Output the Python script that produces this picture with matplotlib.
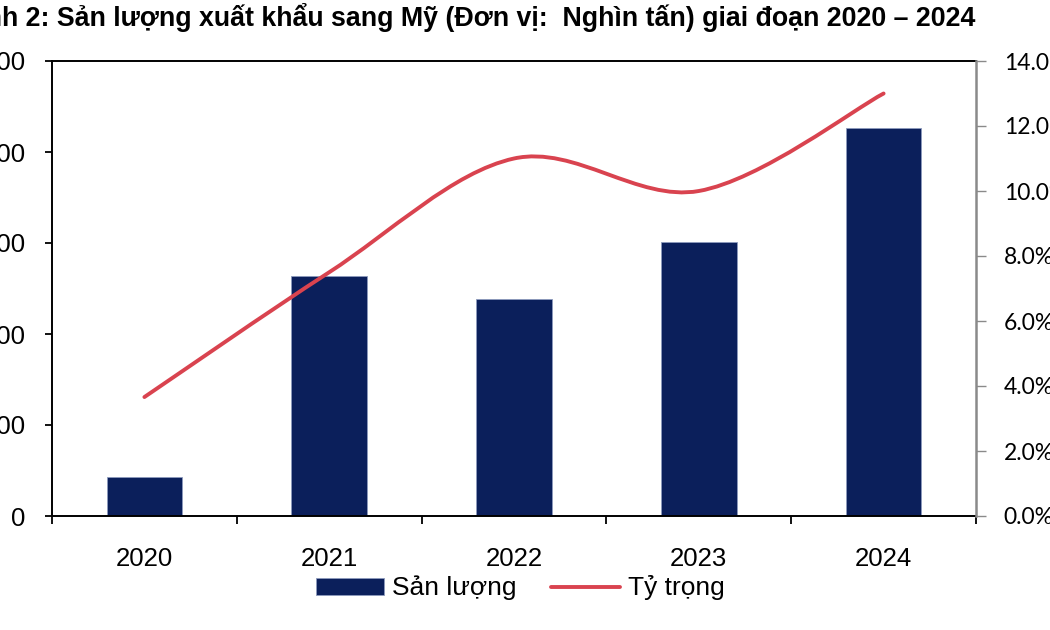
import numpy as np
import matplotlib
matplotlib.use("Agg")
import matplotlib.pyplot as plt
from matplotlib.path import Path
from matplotlib.patches import PathPatch
from matplotlib.lines import Line2D
from matplotlib.patches import Patch

# data
years = ["2020", "2021", "2022", "2023", "2024"]
san_luong = [43, 264, 238, 301, 426]          # Nghìn tấn
ty_trong = [3.66, 7.5, 11.0, 10.0, 13.0]       # %
left_ticks = [0, 100, 200, 300, 400, 500]
right_ticks = [0, 2, 4, 6, 8, 10, 12, 14]

navy = "#0b1f5b"
red = "#d9434f"

plt.rcParams["font.family"] = ["Liberation Sans", "DejaVu Sans"]

fig = plt.figure(figsize=(10.5, 6.3), dpi=100)
ax = fig.add_axes([52/1050, 1 - 516/630, (976-52)/1050, (516-61)/630])
ax2 = ax.twinx()

x = np.arange(len(years))
ax.bar(x, san_luong, width=0.41, color=navy, edgecolor="#8d9bbd", linewidth=0.6, zorder=2)
ax.set_xlim(-0.5, len(years) - 0.5)
ax.set_ylim(0, 500)
ax.set_yticks(left_ticks)
ax.set_yticklabels([str(v) for v in left_ticks])
ax.set_xticks(x)
ax.set_xticklabels(years)
ax.set_xticks(np.arange(-0.5, len(years)), minor=True)
ax.tick_params(axis="x", which="major", length=0, pad=22, labelsize=18.5)
ax.tick_params(axis="x", which="minor", length=6, width=1.3, direction="out")
ax.tick_params(axis="y", length=5, width=1.3, pad=14, labelsize=18.5)
for s in ["left", "bottom", "top"]:
    ax.spines[s].set_linewidth(1.4)
    ax.spines[s].set_color("black")
ax.spines["right"].set_visible(False)

# smoothed line like Excel (bezier through the points)
pts = np.column_stack([x, ty_trong]).astype(float)
ext = np.vstack([pts[0], pts, pts[-1]])
verts = [tuple(pts[0])]
codes = [Path.MOVETO]
for i in range(len(pts) - 1):
    p0, p1, p2, p3 = ext[i], ext[i+1], ext[i+2], ext[i+3]
    c1 = p1 + (p2 - p0) / 6
    c2 = p2 - (p3 - p1) / 6
    verts += [tuple(c1), tuple(c2), tuple(p2)]
    codes += [Path.CURVE4] * 3
ax2.add_patch(PathPatch(Path(verts, codes), facecolor="none", edgecolor=red,
                        linewidth=2.8, capstyle="round", zorder=3))
ax2.set_ylim(0, 14)
ax2.set_yticks(right_ticks)
ax2.set_yticklabels(["%.1f%%" % v for v in right_ticks], family=["Lato", "DejaVu Sans"])
ax2.tick_params(axis="y", length=7, width=1, color="#8a8a8a", pad=13, labelsize=16.5)
ax2.spines["right"].set_color("#8a8a8a")
ax2.spines["right"].set_linewidth(1.8)
for s in ["left", "bottom", "top"]:
    ax2.spines[s].set_visible(False)

handles = [Patch(facecolor=navy, edgecolor="#8d9bbd", linewidth=0.6),
           Line2D([0], [0], color=red, linewidth=2.8, solid_capstyle="round")]
fig.legend(handles, ["Sản lượng", "Tỷ trọng"], loc="center", bbox_to_anchor=(520/1050, 1 - 588/630),
           ncol=2, frameon=False, fontsize=19, handlelength=2.6, handleheight=0.6,
           handletextpad=0.3, columnspacing=1.3)

fig.text(975/1050, 1 - 26/630,
         "Hình 2: Sản lượng xuất khẩu sang Mỹ (Đơn vị:  Nghìn tấn) giai đoạn 2020 – 2024",
         ha="right", va="baseline", fontsize=19.3, fontweight="bold")

fig.savefig("out.png", dpi=100)
